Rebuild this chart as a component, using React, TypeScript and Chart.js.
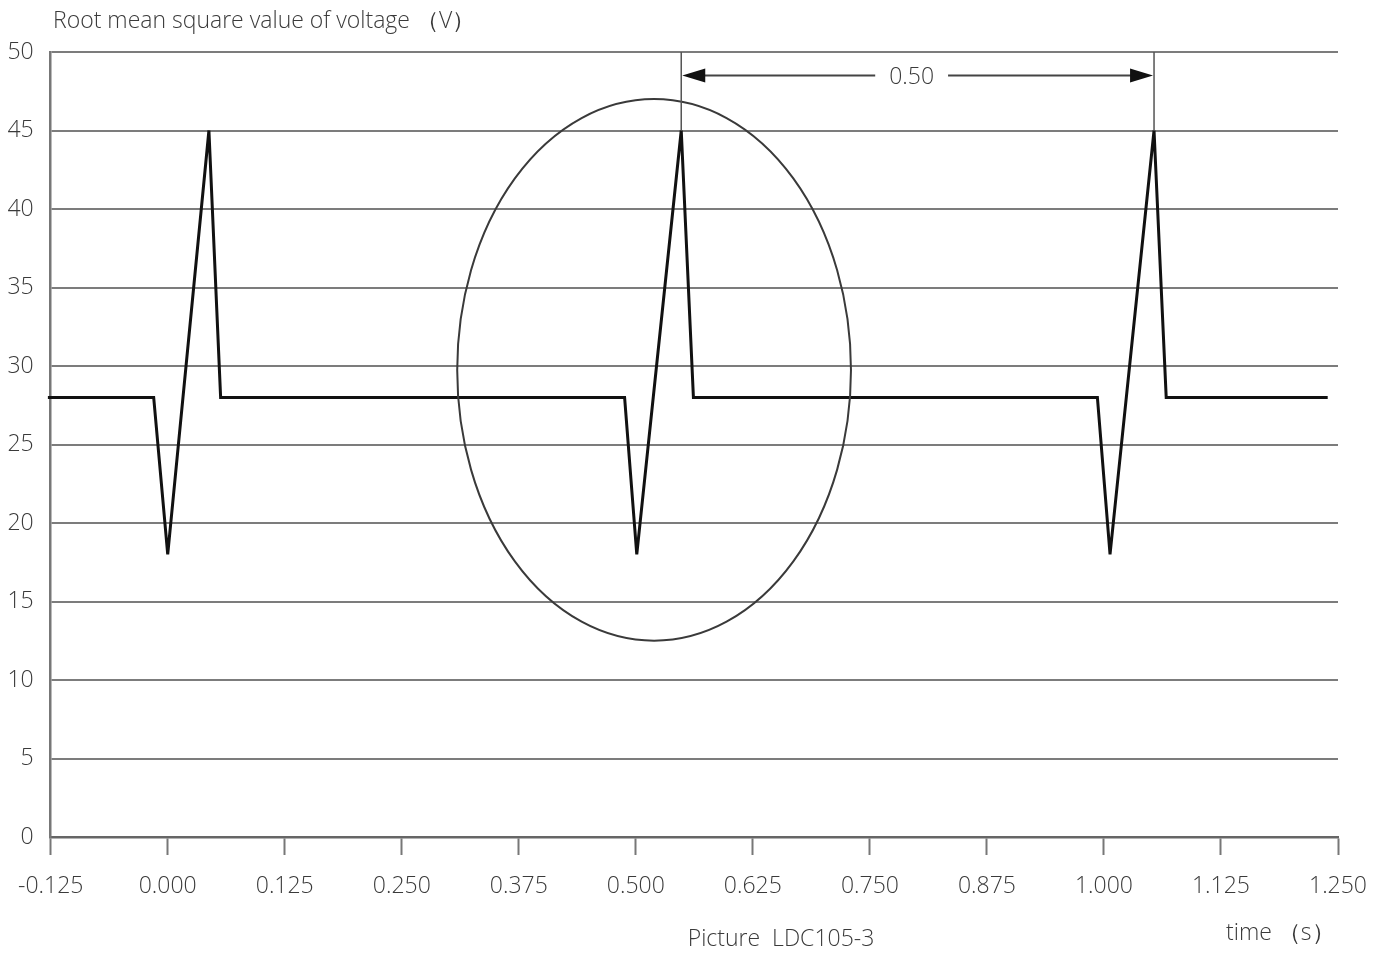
import React, { useEffect, useRef } from "react";
import { Chart, registerables } from "chart.js";

Chart.register(...registerables);

// ---- data ----
const timeValues = [-0.128, -0.015, 0.0, 0.044, 0.0565, 0.488, 0.501, 0.5485, 0.5615, 0.993, 1.0065, 1.0535, 1.0665, 1.239];
const voltageValues = [28, 28, 18, 45, 28, 28, 18, 45, 28, 28, 18, 45, 28, 28];

const xMin = -0.125;
const xMax = 1.25;
const xStep = 0.125;
const yMin = 0;
const yMax = 50;
const yStep = 5;

const yTitle = "Root mean square value of voltage （V）";
const xTitle = "time （s）";
const captionText = "Picture  LDC105-3";

// annotation: ellipse (center x, center y, radius x, radius y) in data units
const ellipseCenter = [0.5195, 29.75];
const ellipseRadii = [0.2103, 17.25];
// period annotation between two peaks
const periodPeaks = [0.5485, 1.0535];
const periodLevels = [50, 45, 48.5];
const periodLabel = "0.50";

const FONT = "'Open Sans', 'Noto Sans', sans-serif";
const TEXT = "#3a3a3a";
const FS = 23;

export default function App() {
  const ref = useRef<HTMLCanvasElement | null>(null);

  useEffect(() => {
    if (!ref.current) return;
    const annotationPlugin = {
      id: "annotations",
      afterDatasetsDraw(chart: any) {
        const ctx = chart.ctx;
        const xs = chart.scales.x;
        const ys = chart.scales.y;
        ctx.save();
        // ellipse
        const cx = xs.getPixelForValue(ellipseCenter[0]);
        const cy = ys.getPixelForValue(ellipseCenter[1]);
        const rx = xs.getPixelForValue(ellipseCenter[0] + ellipseRadii[0]) - cx;
        const ry = cy - ys.getPixelForValue(ellipseCenter[1] + ellipseRadii[1]);
        ctx.beginPath();
        ctx.ellipse(cx, cy, rx, ry, 0, 0, Math.PI * 2);
        ctx.strokeStyle = "#3a3a3a";
        ctx.lineWidth = 2;
        ctx.stroke();

        // period marker
        const x1 = xs.getPixelForValue(periodPeaks[0]);
        const x2 = xs.getPixelForValue(periodPeaks[1]);
        const yTop = ys.getPixelForValue(periodLevels[0]);
        const yPeak = ys.getPixelForValue(periodLevels[1]);
        const yArrow = ys.getPixelForValue(periodLevels[2]);
        ctx.strokeStyle = "#555";
        ctx.lineWidth = 1.5;
        ctx.beginPath();
        ctx.moveTo(x1, yTop);
        ctx.lineTo(x1, yPeak);
        ctx.moveTo(x2, yTop);
        ctx.lineTo(x2, yPeak);
        ctx.stroke();

        const labelX = (x1 + x2) / 2 - 6;
        ctx.font = `300 ${FS}px ${FONT}`;
        ctx.fillStyle = TEXT;
        ctx.textAlign = "center";
        ctx.textBaseline = "middle";
        ctx.fillText(periodLabel, labelX, yArrow + 2);
        const half = ctx.measureText(periodLabel).width / 2 + 14;

        ctx.strokeStyle = "#444";
        ctx.lineWidth = 2;
        ctx.beginPath();
        ctx.moveTo(x1 + 10, yArrow);
        ctx.lineTo(labelX - half, yArrow);
        ctx.moveTo(labelX + half, yArrow);
        ctx.lineTo(x2 - 10, yArrow);
        ctx.stroke();
        ctx.fillStyle = "#111";
        ctx.beginPath();
        ctx.moveTo(x1 + 1, yArrow);
        ctx.lineTo(x1 + 24, yArrow - 7);
        ctx.lineTo(x1 + 24, yArrow + 7);
        ctx.closePath();
        ctx.fill();
        ctx.beginPath();
        ctx.moveTo(x2 - 1, yArrow);
        ctx.lineTo(x2 - 24, yArrow - 7);
        ctx.lineTo(x2 - 24, yArrow + 7);
        ctx.closePath();
        ctx.fill();

        // texts
        ctx.fillStyle = TEXT;
        ctx.font = `300 ${FS}px ${FONT}`;
        ctx.textAlign = "left";
        ctx.textBaseline = "middle";
        ctx.fillText(yTitle, 53, 21);
        ctx.textAlign = "center";
        ctx.fillText(captionText, 781, 939);
        ctx.textAlign = "left";
        ctx.fillText(xTitle, 1226, 933);
        ctx.restore();
      },
    };

    const chart = new Chart(ref.current, {
      type: "line",
      data: {
        datasets: [
          {
            data: timeValues.map((t, i) => ({ x: t, y: voltageValues[i] })),
            borderColor: "#111",
            borderWidth: 3,
            pointRadius: 0,
            tension: 0,
            fill: false,
            clip: false as any,
          },
        ],
      },
      options: {
        responsive: false,
        animation: false,
        layout: { padding: { top: 52, right: 51, left: 0, bottom: 0 } },
        plugins: {
          legend: { display: false },
          tooltip: { enabled: false },
          title: { display: false },
        },
        scales: {
          x: {
            type: "linear",
            min: xMin,
            max: xMax,
            afterFit(scale: any) {
              scale.height = 117;
            },
            ticks: {
              stepSize: xStep,
              autoSkip: false,
              maxRotation: 0,
              padding: 18,
              color: TEXT,
              font: { family: FONT, size: FS, weight: 300 as any },
              callback: (v: any) => Number(v).toFixed(3),
            },
            grid: {
              drawOnChartArea: false,
              drawTicks: true,
              tickLength: 18,
              tickWidth: 2,
              tickColor: "#777",
              color: "rgba(0,0,0,0)",
            },
            border: { display: true, color: "#666", width: 2.5 },
          },
          y: {
            type: "linear",
            min: yMin,
            max: yMax,
            afterFit(scale: any) {
              scale.width = 50;
            },
            ticks: {
              stepSize: yStep,
              padding: 17,
              color: TEXT,
              font: { family: FONT, size: FS, weight: 300 as any },
            },
            grid: {
              drawTicks: false,
              color: "#7c7c7c",
              lineWidth: 2,
            },
            border: { display: true, color: "#777", width: 2.5 },
          },
        },
      },
      plugins: [annotationPlugin],
    });
    return () => chart.destroy();
  }, []);

  return (
    <div style={{ position: "fixed", left: 0, top: 0, width: 1389, height: 954, background: "#fff" }}>
      <canvas ref={ref} width={1389} height={954} style={{ display: "block" }} />
    </div>
  );
}
